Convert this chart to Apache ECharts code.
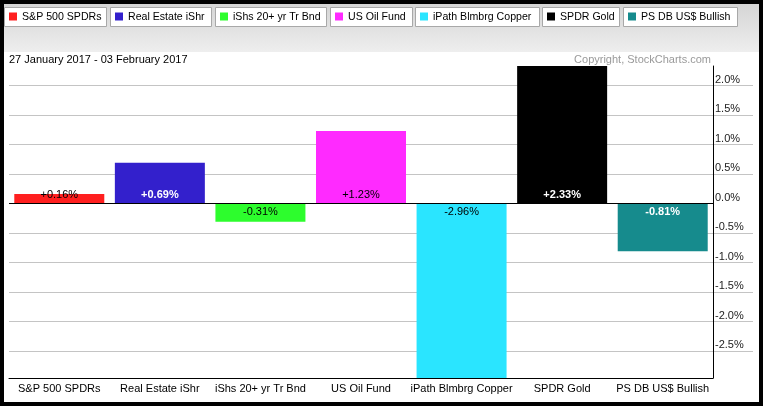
<!DOCTYPE html>
<html>
<head>
<meta charset="utf-8">
<script src="https://cdn.jsdelivr.net/npm/echarts@6/dist/echarts.min.js"></script>
<style>
html,body{margin:0;padding:0;background:#fff;}
#c{width:764px;height:406px;}
</style>
</head>
<body>
<div id="c"></div>
<script>
const categories = ['S&P 500 SPDRs','Real Estate iShr','iShs 20+ yr Tr Bnd','US Oil Fund','iPath Blmbrg Copper','SPDR Gold','PS DB US$ Bullish'];
const values = [0.16, 0.69, -0.31, 1.23, -2.96, 2.33, -0.81];
const yTicks = [-2.5, -2.0, -1.5, -1.0, -0.5, 0.0, 0.5, 1.0, 1.5, 2.0];
const dateRange = '27 January 2017 - 03 February 2017';
const copyright = 'Copyright, StockCharts.com';

const barColors = ['#ff1f1f','#3320cc','#2dfd2d','#ff2aff','#2ae5ff','#000000','#168b8d'];
const lightText = [false, true, false, false, false, true, true];
const legendBoxes = [[4,106],[110,211],[215,326],[330,412],[415,539],[542,619],[623,737]];
const FONT = '"Liberation Sans", Arial, sans-serif';

const yMin = Math.min.apply(null, values);
const yMax = Math.max.apply(null, values);

const legendEls = [];
categories.forEach((name, i) => {
  const bx = legendBoxes[i][0], bw = legendBoxes[i][1] - bx;
  legendEls.push({type:'rect', shape:{x:bx+0.5, y:7.5, width:bw, height:19}, style:{fill:'#fff', stroke:'#a8a8a8', lineWidth:1}, z:1});
  legendEls.push({type:'rect', shape:{x:bx+5, y:12.5, width:8, height:8}, style:{fill:barColors[i]}, z:2});
  legendEls.push({type:'text', style:{x:bx+18, y:17, text:name, fill:'#000', font:'10.6px ' + FONT, textVerticalAlign:'middle'}, z:2});
});

const chart = echarts.init(document.getElementById('c'), null, {renderer:'canvas'});
chart.setOption({
  animation:false,
  backgroundColor:'#fff',
  textStyle:{fontFamily:FONT},
  graphic:[
    {type:'rect', shape:{x:4, y:4, width:755, height:48}, style:{fill:new echarts.graphic.LinearGradient(0,0,0,1,[{offset:0,color:'#d5d5d5'},{offset:1,color:'#eeeeee'}])}, z:0},
    {type:'text', style:{x:9, y:60, text:dateRange, fill:'#000', font:'11px ' + FONT, textVerticalAlign:'middle'}, z:2},
    {type:'text', style:{x:711, y:60, text:copyright, fill:'#9a9a9a', font:'11px ' + FONT, textAlign:'right', textVerticalAlign:'middle'}, z:2},
    {type:'rect', shape:{x:2, y:2, width:759, height:402}, style:{fill:'none', stroke:'#000', lineWidth:4}, z:10}
  ].concat(legendEls),
  grid:[
    {left:9, right:51, top:66, bottom:28},
    {left:9, right:11, top:66, bottom:28}
  ],
  xAxis:[
    {type:'category', gridIndex:0, data:categories,
     axisLine:{onZero:false, lineStyle:{color:'#000', width:1}},
     axisTick:{show:false},
     axisLabel:{color:'#000', fontSize:11, margin:5, interval:0, fontFamily:FONT},
     splitLine:{show:false}},
    {type:'value', gridIndex:1, min:0, max:1, show:false}
  ],
  yAxis:[
    {type:'value', gridIndex:0, position:'right', min:yMin, max:yMax, splitNumber:10,
     axisLine:{show:true, lineStyle:{color:'#000', width:1}},
     axisTick:{show:false},
     splitLine:{show:false},
     axisLabel:{color:'#222', fontSize:11, margin:2, fontFamily:FONT, verticalAlign:'bottom',
       showMinLabel:false, showMaxLabel:false,
       formatter:function(v){ return Math.abs(v*2 - Math.round(v*2)) < 1e-6 ? v.toFixed(1) + '%' : ''; }}},
    {type:'value', gridIndex:1, min:yMin, max:yMax, show:false}
  ],
  series:[
    {type:'line', xAxisIndex:1, yAxisIndex:1, data:[], z:0, silent:true,
     markLine:{silent:true, symbol:'none', z:0, label:{show:false},
       lineStyle:{color:'#c4c4c4', width:1, type:'solid'},
       data: yTicks.filter(v => v !== 0).map(v => ({yAxis:v}))}},
    {type:'bar', xAxisIndex:0, yAxisIndex:0, barWidth:90, z:3,
     data: values.map((v, i) => ({
       value:v,
       itemStyle:{color:barColors[i]},
       label:{show:true, position: v >= 0 ? 'insideBottom' : 'insideTop', distance:3,
         color: lightText[i] ? '#fff' : '#000', fontWeight: lightText[i] ? 'bold' : 'normal',
         fontSize:11, fontFamily:FONT,
         formatter:function(p){ return (p.value > 0 ? '+' : '') + p.value.toFixed(2) + '%'; }}
     })),
     markLine:{silent:true, symbol:'none', label:{show:false},
       lineStyle:{color:'#000', width:1, type:'solid'},
       data:[{yAxis:0}]}}
  ]
});
</script>
</body>
</html>
